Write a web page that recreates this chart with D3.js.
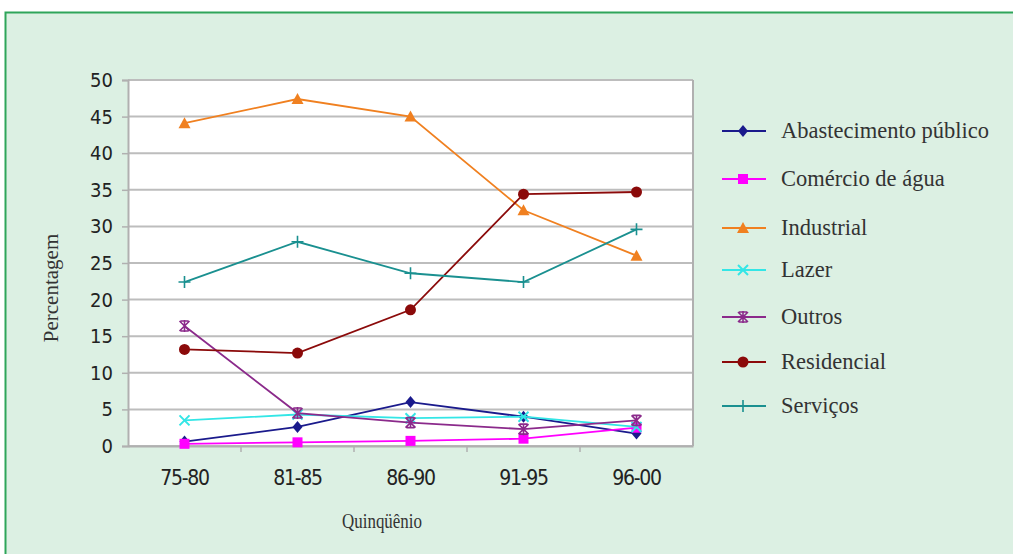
<!DOCTYPE html>
<html><head><meta charset="utf-8">
<script src="https://cdn.jsdelivr.net/npm/d3@7"></script>
<style>body{margin:0;background:#fff;}svg{display:block;}</style>
</head><body>
<svg id="c" width="1013" height="554"></svg>
<script>
const categories = ["75-80","81-85","86-90","91-95","96-00"];
const seriesNames = ["Abastecimento público","Comércio de água","Industrial","Lazer","Outros","Residencial","Serviços"];
const abastecimento = [0.6, 2.6, 6.0, 4.0, 1.7];
const comercio = [0.3, 0.5, 0.7, 1.0, 2.5];
const industrial = [44.1, 47.4, 45.0, 32.2, 26.0];
const lazer = [3.5, 4.3, 3.8, 4.0, 2.6];
const outros = [16.4, 4.5, 3.2, 2.3, 3.5];
const residencial = [13.2, 12.7, 18.6, 34.4, 34.7];
const servicos = [22.4, 27.9, 23.6, 22.4, 29.6];
const yTicks = [0,5,10,15,20,25,30,35,40,45,50];
const colors = ["#1a1a8c","#ff00ff","#f08020","#33e6e6","#8b2a8b","#8b0a0a","#1a9090"];
const markers = ["diamond","square","triangle","x","star","circle","plus"];
const values = [abastecimento, comercio, industrial, lazer, outros, residencial, servicos];

const svg = d3.select("#c");
// background panel
svg.append("rect").attr("x",5.5).attr("y",12.5).attr("width",1020).attr("height",560)
  .attr("fill","#dcf0e3").attr("stroke","#2ea55a").attr("stroke-width",2);

const L=128, R=693, T=80, B=446;
const x = d3.scaleBand().domain(categories).range([L,R]);
const y = d3.scaleLinear().domain([0,50]).range([B,T]);

svg.append("rect").attr("x",L).attr("y",T).attr("width",R-L).attr("height",B-T).attr("fill","#fff");

// gridlines
svg.append("g").selectAll("line").data(yTicks).join("line")
  .attr("x1",L).attr("x2",R).attr("y1",d=>y(d)).attr("y2",d=>y(d))
  .attr("stroke","#bdbdbd").attr("stroke-width",2);
// right border
svg.append("line").attr("x1",R).attr("x2",R).attr("y1",T).attr("y2",B).attr("stroke","#b0b0b0").attr("stroke-width",2);

// y axis
const ya = svg.append("g").attr("transform",`translate(${L},0)`)
  .call(d3.axisLeft(y).tickValues(yTicks).tickSize(6).tickPadding(9));
ya.select(".domain").attr("stroke","#b0b0b0").attr("stroke-width",2);
ya.selectAll(".tick line").attr("stroke","#b0b0b0").attr("stroke-width",1.5);
ya.selectAll("text").attr("font-family","'DejaVu Sans Condensed','DejaVu Sans',sans-serif").attr("font-size",20).attr("fill","#222");

// x axis
const xa = svg.append("g").attr("transform",`translate(0,${B})`)
  .call(d3.axisBottom(x).tickSize(0).tickPadding(24));
xa.select(".domain").attr("stroke","#b0b0b0").attr("stroke-width",2);
xa.selectAll("text").attr("font-family","'DejaVu Sans Condensed','DejaVu Sans',sans-serif").attr("font-size",21).attr("fill","#222").attr("letter-spacing",-1.3);
// band boundary ticks
svg.append("g").selectAll("line").data(categories.slice(1)).join("line")
  .attr("x1",d=>x(d)).attr("x2",d=>x(d)).attr("y1",B).attr("y2",B+6)
  .attr("stroke","#b0b0b0").attr("stroke-width",1.5);

// axis titles
svg.append("text").attr("transform","translate(58,288) rotate(-90)").attr("text-anchor","middle")
  .attr("font-family","'Liberation Serif',serif").attr("font-size",21).attr("fill","#333").text("Percentagem");
svg.append("text").attr("x",382).attr("y",528).attr("text-anchor","middle")
  .attr("font-family","'Liberation Serif',serif").attr("font-size",21).attr("fill","#333")
  .attr("textLength",80).attr("lengthAdjust","spacingAndGlyphs").text("Quinqüênio");

function drawMarker(g, type, cx, cy, color){
  const s = 5;
  if(type==="diamond") g.append("path").attr("d",`M${cx},${cy-s-1}L${cx+s},${cy}L${cx},${cy+s+1}L${cx-s},${cy}Z`).attr("fill",color);
  else if(type==="square") g.append("rect").attr("x",cx-5).attr("y",cy-5).attr("width",10).attr("height",10).attr("fill",color);
  else if(type==="triangle") g.append("path").attr("d",`M${cx},${cy-6}L${cx+6},${cy+5}L${cx-6},${cy+5}Z`).attr("fill",color);
  else if(type==="circle") g.append("circle").attr("cx",cx).attr("cy",cy).attr("r",5.5).attr("fill",color);
  else if(type==="x") g.append("path").attr("d",`M${cx-5},${cy-5}L${cx+5},${cy+5}M${cx-5},${cy+5}L${cx+5},${cy-5}`).attr("stroke",color).attr("stroke-width",2);
  else if(type==="star") g.append("path").attr("d",`M${cx-5},${cy-5}L${cx+5},${cy+5}M${cx-5},${cy+5}L${cx+5},${cy-5}M${cx},${cy-6}L${cx},${cy+6}M${cx-4},${cy-5}L${cx+4},${cy-5}M${cx-4},${cy+5}L${cx+4},${cy+5}`).attr("stroke",color).attr("stroke-width",1.6);
  else if(type==="plus") g.append("path").attr("d",`M${cx-6},${cy}L${cx+6},${cy}M${cx},${cy-6}L${cx},${cy+6}`).attr("stroke",color).attr("stroke-width",1.6);
}

const line = d3.line().x((d,i)=>x(categories[i])+x.bandwidth()/2).y(d=>y(d));
values.forEach((vals,si)=>{
  const g = svg.append("g");
  g.append("path").attr("d",line(vals)).attr("fill","none").attr("stroke",colors[si]).attr("stroke-width",1.8);
  vals.forEach((v,i)=>drawMarker(g, markers[si], x(categories[i])+x.bandwidth()/2, y(v), colors[si]));
});

// legend
const legY = [131,179,228,270,317,362,406];
seriesNames.forEach((name,i)=>{
  const g = svg.append("g");
  g.append("line").attr("x1",722).attr("x2",766).attr("y1",legY[i]).attr("y2",legY[i]).attr("stroke",colors[i]).attr("stroke-width",1.8);
  drawMarker(g, markers[i], 743, legY[i], colors[i]);
  g.append("text").attr("x",781).attr("y",legY[i]+7).attr("font-family","'Liberation Serif',serif")
    .attr("font-size",22.5).attr("fill","#333").text(name);
});
</script>
</body></html>
